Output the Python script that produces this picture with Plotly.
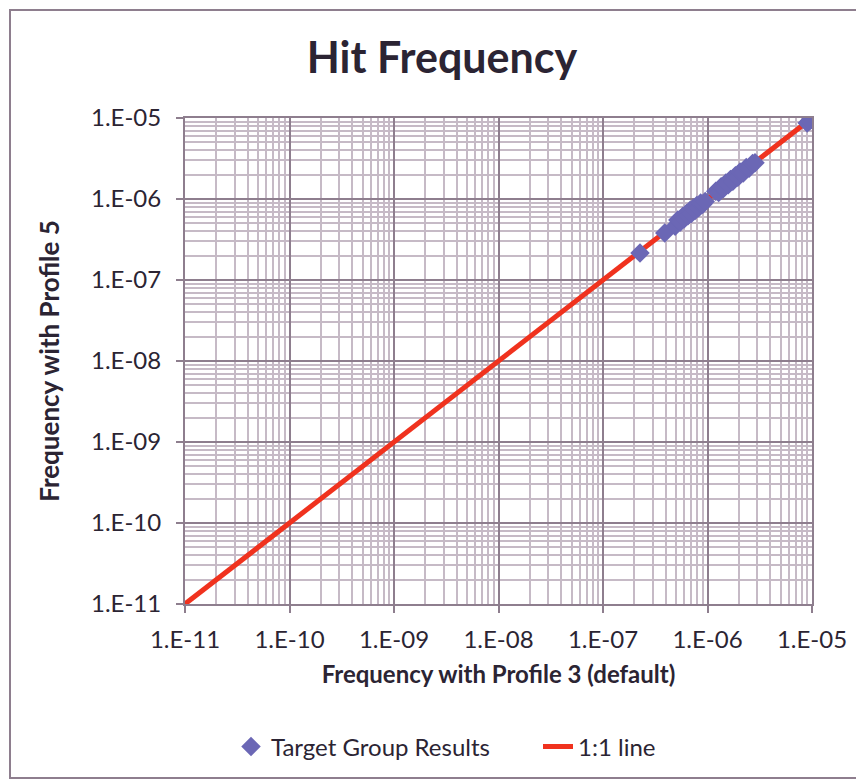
import plotly.graph_objects as go

# ---- data ----
title_text = "Hit Frequency"
x_title = "Frequency with Profile 3 (default)"
y_title = "Frequency with Profile 5"

tick_vals = [1e-11, 1e-10, 1e-09, 1e-08, 1e-07, 1e-06, 1e-05]
tick_text = ["1.E-11", "1.E-10", "1.E-09", "1.E-08", "1.E-07", "1.E-06", "1.E-05"]

target_x = [2.26e-7, 3.9e-7,
            4.9e-7, 5.2e-7, 5.5e-7, 5.8e-7, 6.0e-7, 6.3e-7, 6.5e-7, 6.8e-7,
            7.0e-7, 7.3e-7, 7.6e-7, 7.9e-7, 8.2e-7, 8.6e-7, 9.0e-7, 9.5e-7,
            1.2e-6, 1.28e-6, 1.35e-6, 1.42e-6, 1.5e-6, 1.58e-6, 1.66e-6, 1.75e-6,
            1.85e-6, 1.95e-6, 2.05e-6, 2.2e-6, 2.35e-6, 2.5e-6, 2.7e-6, 2.85e-6,
            9.0e-6, 9.5e-6]
target_y = [2.15e-7, 3.8e-7,
            4.6e-7, 5.5e-7, 5.2e-7, 6.1e-7, 5.7e-7, 6.6e-7, 6.2e-7, 7.2e-7,
            6.6e-7, 7.7e-7, 7.2e-7, 8.3e-7, 7.8e-7, 8.9e-7, 8.6e-7, 9.3e-7,
            1.25e-6, 1.2e-6, 1.42e-6, 1.35e-6, 1.58e-6, 1.5e-6, 1.74e-6, 1.66e-6,
            1.93e-6, 1.85e-6, 2.15e-6, 2.1e-6, 2.45e-6, 2.4e-6, 2.75e-6, 2.8e-6,
            8.7e-6, 9.2e-6]

line_x = [1e-11, 1e-5]
line_y = [1e-11, 1e-5]

minor_vals = [m * 10.0 ** e for e in range(-11, -5) for m in range(2, 10)]

FONT = "Lato, 'Open Sans', sans-serif"
TXT = "#2b2433"
MINOR = "#c6bac6"
MAJOR = "#8e7e8e"

# plot area in figure pixels (page is offset by the 8px body margin)
L, T, PW, PH = 177, 110, 627, 486

fig = go.Figure()
fig.add_trace(go.Scatter(
    x=line_x, y=line_y, mode="lines", name="1:1 line",
    line=dict(color="#f0321e", width=5), legendrank=2,
))
fig.add_trace(go.Scatter(
    x=target_x, y=target_y, mode="markers", name="Target Group Results",
    marker=dict(symbol="diamond", size=15, color="#6b67b5"), legendrank=1,
))

axis_common = dict(
    type="log",
    range=[-11, -5],
    tickmode="array",
    tickvals=tick_vals,
    ticktext=tick_text,
    tickfont=dict(family=FONT, size=24, color=TXT),
    showgrid=True,
    gridcolor=MAJOR,
    gridwidth=2,
    showline=True,
    linecolor=MAJOR,
    linewidth=2,
    ticks="outside",
    ticklen=7,
    tickwidth=2,
    tickcolor=MAJOR,
    zeroline=False,
    minor=dict(tickmode="array", tickvals=minor_vals, showgrid=True,
               gridcolor=MINOR, gridwidth=2, ticks=""),
)

fig.update_xaxes(**axis_common,
                 ticklabelstandoff=6,
                 title=dict(text="<b>" + x_title + "</b>",
                            font=dict(family=FONT, size=24, color=TXT),
                            standoff=14),
                 mirror=True)
fig.update_yaxes(**axis_common,
                 ticklabelstandoff=10,
                 title=dict(text="<b>" + y_title + "</b>",
                            font=dict(family=FONT, size=26, color=TXT),
                            standoff=24),
                 mirror=True)

fig.update_layout(
    width=864, height=780,
    margin=dict(l=L, r=864 - L - PW, t=T, b=780 - T - PH),
    paper_bgcolor="white",
    plot_bgcolor="white",
    title=dict(text="<b>" + title_text + "</b>", x=434 / 864, xanchor="center",
               y=1 - 50 / 780, yanchor="middle",
               font=dict(family=FONT, size=43, color=TXT)),
    showlegend=True,
    legend=dict(orientation="h", x=(530 - L) / PW, xanchor="center",
                y=-0.294, yanchor="middle",
                entrywidth=262, entrywidthmode="pixels",
                font=dict(family=FONT, size=24, color=TXT),
                bgcolor="rgba(0,0,0,0)"),
    shapes=[dict(type="rect", xref="paper", yref="paper",
                 x0=(2 - L) / PW, x1=(854 - L) / PW,
                 y0=(T + PH - 770) / PH, y1=(T + PH - 2) / PH,
                 line=dict(color="#8e7e8e", width=2), layer="below")],
)

fig.write_html("out.html")
